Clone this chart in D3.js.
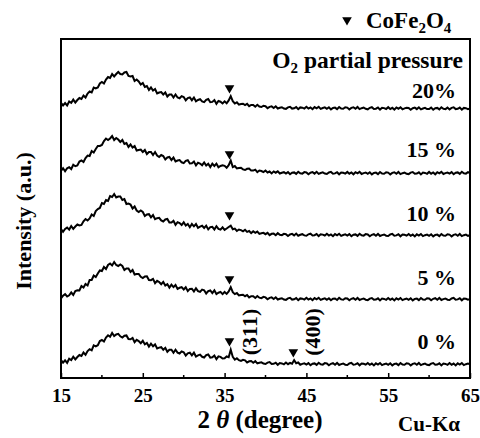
<!DOCTYPE html>
<html>
<head>
<meta charset="utf-8">
<script src="https://cdn.jsdelivr.net/npm/d3@7"></script>
<style>
  body { margin: 0; background: #fff; }
</style>
</head>
<body>
<svg id="chart" width="480" height="438"></svg>
<script>
const serif = "'Liberation Serif', 'Times New Roman', Times, serif";

// 2-theta sampling grid (degrees), 0.25 deg step
const twoTheta = d3.range(15, 65.125, 0.25);

// intensities above each pattern's own baseline (a.u.)
const p0 = [
  5, 2.3, 4.7, 2.2, 6.3, 5, 8.3, 5.6, 8, 10,
  9, 12.5, 10.2, 13.9, 15.8, 14.7, 19.7, 18.7, 19.8, 23.9,
  25, 23.5, 27.5, 29.7, 28.2, 32, 29, 30.5, 31.2, 28.7,
  27.5, 29.3, 29.6, 25.9, 25.7, 27, 22.8, 25.1, 23.9, 21.8,
  24.2, 20.6, 22, 18.4, 21.3, 18.7, 20.6, 16.5, 17.4, 17.8,
  15.2, 17.2, 13.2, 15.2, 15.2, 12.2, 15.3, 12.4, 11.5, 13.6,
  12.8, 9.5, 11.7, 12.4, 9.6, 12.3, 8.5, 9.7, 10.4, 8.2,
  7.5, 9.8, 10.6, 7.4, 7.7, 9.5, 5.8, 8.7, 8.1, 6.5,
  6.8, 8.5, 7.8, 15.3, 8.1, 5.3, 6.8, 4.8, 4.1, 5.2,
  4.6, 2.5, 3.7, 4, 2.3, 3.9, 1.6, 2.3, 2.7, 1.4,
  1, 2.4, 2.9, 1, 1.2, 2.3, 0.2, 1.9, 1.6, 0.7,
  2.5, 0.8, 2.2, 1.3, 4.9, 1.7, 2.5, 0.3, 1.1, 1.6,
  0.4, 1.9, -0.2, 1.3, 1.6, 0.1, 2.2, 0.7, 0.4, 1.9,
  1.5, -0.3, 1.2, 1.8, 0.3, 2.1, 0, 0.9, 1.5, 0.3,
  0, 1.5, 2.1, 0.3, 0.6, 1.8, -0.3, 1.5, 1.2, 0.3,
  2, 0.2, 1.4, -0.4, 1.7, 0.5, 2, -0.1, 0.8, 1.4,
  0.2, 1.7, -0.4, 1.1, 1.4, -0.1, 2, 0.5, 0.2, 1.7,
  1.4, -0.4, 1.1, 1.7, 0.2, 2, -0.1, 0.8, 1.4, 0.2,
  -0.1, 1.4, 2, 0.2, 0.5, 1.7, -0.4, 1.4, 1.1, 0.2,
  2, 0.2, 1.4, -0.4, 1.7, 0.5, 2, -0.1, 0.8, 1.4,
  0.8
];
const p5 = [
  1.5, 4.4, 5.9, 3.5, 4.7, 7.5, 5, 9, 9.7, 9.5,
  14, 12.5, 16, 14.5, 20, 20, 24.5, 23, 26.5, 29.5,
  29, 33, 31, 35, 36.5, 34.5, 38, 35, 34, 35.5,
  34, 30, 31.5, 31.5, 28, 30, 25.5, 26, 26, 23.2,
  21.9, 23.6, 23.8, 20, 19.8, 21.1, 16.9, 19.2, 18, 15.8,
  18.1, 14.5, 15.9, 12.4, 15.4, 12.9, 15, 11.1, 12.2, 12.8,
  10.5, 12.7, 8.9, 11.1, 11.3, 8.5, 11.7, 8.9, 8.1, 10.4,
  9.7, 6.5, 8.8, 9.6, 6.9, 9.7, 6, 7.3, 8.1, 5.9,
  8, 6.1, 8.6, 12.8, 7.9, 5.9, 7, 4.5, 5, 5.3,
  3.8, 5, 2.6, 3.8, 3.8, 2.1, 4, 2.3, 1.8, 3.1,
  2.6, 0.7, 2.1, 2.6, 1, 2.7, 0.5, 1.3, 1.8, 0.5,
  0.1, 1.6, 2.2, 0.4, 0.7, 1.9, -0.2, 1.6, 1.3, 0.4,
  2.2, 0.4, 1.6, -0.2, 1.9, 0.7, 2.2, 0.1, 1, 1.6,
  0.3, 1.8, -0.3, 1.2, 1.5, 0, 2.1, 0.6, 0.3, 1.8,
  1.5, -0.3, 1.2, 1.8, 0.3, 2.1, 0, 0.9, 1.5, 0.3,
  -0.1, 1.4, 2, 0.2, 0.5, 1.7, -0.4, 1.4, 1.1, 0.2,
  2, 0.2, 1.4, -0.4, 1.7, 0.5, 2, -0.1, 0.8, 1.4,
  0.2, 1.7, -0.4, 1.1, 1.4, -0.1, 2, 0.5, 0.2, 1.7,
  1.5, -0.3, 1.2, 1.8, 0.3, 2.1, 0, 0.9, 1.5, 0.3,
  0, 1.5, 2.1, 0.3, 0.6, 1.8, -0.3, 1.5, 1.2, 0.3,
  0.9
];
const p10 = [
  7, 4.2, 7, 8.4, 6.4, 10, 7.2, 9.5, 11.5, 10.5,
  11, 14.7, 17, 15.5, 17.5, 21.5, 20, 25, 27, 28,
  33, 32, 36, 35, 40, 39, 42, 38.5, 39.5, 39.5,
  36, 37, 32, 32.5, 31.5, 27.5, 29.5, 25.5, 24, 25.5,
  24, 20, 21.5, 21.8, 18.6, 21, 16.9, 17.8, 18.2, 15.6,
  14.5, 16.5, 17, 13.5, 13.5, 15.1, 11.2, 13.8, 12.9, 11,
  13.7, 10.4, 12.1, 8.8, 12, 9.7, 12, 8.2, 9.4, 10.2,
  8, 10.3, 6.6, 8.9, 9.2, 6.5, 9.8, 7.1, 6.4, 8.7,
  6.1, 7.5, 9, 10.4, 6.7, 7.4, 5, 6.5, 5.9, 4.7,
  6.2, 4.1, 5, 2.9, 4.7, 3.2, 4.4, 2.1, 2.8, 3.2,
  1.8, 3.1, 0.8, 2.2, 2.4, 0.8, 2.8, 1.2, 0.8, 2.2,
  1.8, 0, 1.5, 2.1, 0.6, 2.4, 0.3, 1.2, 1.8, 0.6,
  0.2, 1.7, 2.3, 0.5, 0.8, 2, -0.1, 1.7, 1.4, 0.5,
  2.2, 0.4, 1.6, -0.2, 1.9, 0.7, 2.2, 0.1, 1, 1.6,
  0.4, 1.9, -0.2, 1.3, 1.6, 0.1, 2.2, 0.7, 0.4, 1.9,
  1.5, -0.3, 1.2, 1.8, 0.3, 2.1, 0, 0.9, 1.5, 0.3,
  0, 1.5, 2.1, 0.3, 0.6, 1.8, -0.3, 1.5, 1.2, 0.3,
  2, 0.2, 1.4, -0.4, 1.7, 0.5, 2, -0.1, 0.8, 1.4,
  0.2, 1.7, -0.4, 1.1, 1.4, -0.1, 2, 0.5, 0.2, 1.7,
  1.4, -0.4, 1.1, 1.7, 0.2, 2, -0.1, 0.8, 1.4, 0.2,
  0.8
];
const p15 = [
  3, 5.8, 2.7, 5.7, 6.8, 5, 9.3, 7.8, 8.5, 12.5,
  13.5, 12, 16, 18.5, 18, 23, 21.5, 25, 28, 28,
  29, 33, 35.5, 34, 35.5, 38, 34, 36, 34.5, 32,
  34, 30, 31, 27, 29.5, 26.5, 28, 23.5, 24, 24.5,
  22, 24, 20, 22, 22, 19, 22, 18.5, 17, 19,
  18, 14.5, 16.5, 17, 14, 16.5, 12.5, 13.5, 14, 11.7,
  10.9, 13.1, 13.8, 10.5, 10.7, 12.4, 8.6, 11.3, 10.5, 8.8,
  11.6, 8.4, 10.2, 7, 10.3, 8.1, 10.4, 6.7, 8, 8.8,
  8.2, 6.2, 8.8, 13.4, 6.9, 8, 5.5, 6, 6.2, 4.6,
  4, 5.2, 5.5, 3.4, 3.4, 4.3, 1.9, 3.5, 3, 1.9,
  3.5, 1.5, 2.5, 0.6, 2.6, 1.3, 2.7, 0.5, 1.3, 1.8,
  0.4, 1.9, -0.2, 1.3, 1.6, 0.1, 2.2, 0.7, 0.4, 1.9,
  1.6, -0.2, 1.3, 1.9, 0.4, 2.2, 0.1, 1, 1.6, 0.4,
  0, 1.5, 2.1, 0.3, 0.6, 1.8, -0.3, 1.5, 1.2, 0.3,
  2.1, 0.3, 1.5, -0.3, 1.8, 0.6, 2.1, 0, 0.9, 1.5,
  0.2, 1.7, -0.4, 1.1, 1.4, -0.1, 2, 0.5, 0.2, 1.7,
  1.4, -0.4, 1.1, 1.7, 0.2, 2, -0.1, 0.8, 1.4, 0.2,
  -0.1, 1.4, 2, 0.2, 0.5, 1.7, -0.4, 1.4, 1.1, 0.2,
  2.1, 0.3, 1.5, -0.3, 1.8, 0.6, 2.1, 0, 0.9, 1.5,
  0.4, 1.9, -0.2, 1.3, 1.6, 0.1, 2.2, 0.7, 0.4, 1.9,
  1
];
const p20 = [
  6, 3.5, 6, 3.5, 7.5, 6.2, 9.4, 6.5, 9, 11,
  10, 13.5, 11.5, 15.5, 17.5, 16.5, 21.5, 20.5, 21.5, 25.5,
  27, 25.5, 29.5, 32, 31, 35, 32.5, 35, 37, 35,
  34.5, 36.5, 37, 33, 32.5, 33, 28, 29.5, 27.5, 24.5,
  26, 22, 23, 19, 21.5, 18.5, 20, 15.5, 16.5, 17,
  14.5, 16.5, 12.5, 14.5, 14.5, 11.5, 14.5, 11.5, 10.7, 12.9,
  12, 8.7, 10.9, 11.6, 8.8, 11.5, 7.7, 9, 9.8, 7.5,
  6.8, 9.1, 10, 6.8, 7.1, 8.9, 5.2, 8, 7.3, 5.6,
  7.7, 5.7, 8.6, 12.8, 7.9, 5.5, 6.7, 4.3, 5, 5.3,
  3.9, 5.1, 2.8, 4, 4.1, 2.3, 4.2, 2.5, 2, 3.3,
  2.8, 0.8, 2.1, 2.6, 1, 2.7, 0.5, 1.3, 1.8, 0.5,
  0.1, 1.6, 2.2, 0.4, 0.7, 1.9, -0.2, 1.6, 1.3, 0.4,
  2.2, 0.4, 1.6, -0.2, 1.9, 0.7, 2.2, 0.1, 1, 1.6,
  0.2, 1.7, -0.4, 1.1, 1.4, -0.1, 2, 0.5, 0.2, 1.7,
  1.4, -0.4, 1.1, 1.7, 0.2, 2, -0.1, 0.8, 1.4, 0.2,
  -0.3, 1.2, 1.8, 0, 0.3, 1.5, -0.6, 1.2, 0.9, 0,
  1.8, 0, 1.2, -0.6, 1.5, 0.3, 1.8, -0.3, 0.6, 1.2,
  1.1, -0.7, 0.8, 1.4, -0.1, 1.7, -0.4, 0.5, 1.1, -0.1,
  -0.1, 1.4, -0.7, 0.8, 1.1, -0.4, 1.7, 0.2, -0.1, 1.4,
  -0.4, 1.1, 1.7, -0.1, 0.2, 1.4, -0.7, 1.1, 0.8, -0.1,
  0.5
];

const series = [p0, p5, p10, p15, p20];
const seriesOffset = [13, 78, 142, 204, 269];
const seriesLabel = ["0 %", "5 %", "10 %", "15 %", "20%"];
const labelY = [29, 93, 157, 221, 280];

// CoFe2O4 reflections marked with triangles
const markTheta = [35.6, 35.6, 35.6, 35.6, 35.6, 43.4];
const markY = [37, 99, 163, 224, 290, 26];
const hklText = ["(311)", "(400)"];
const hklTheta = [39.0, 46.7];

const xTicks = [15, 25, 35, 45, 55, 65];
const xMinor = [20, 30, 40, 50, 60];

const margin = { top: 39, right: 10, bottom: 60, left: 61 };
const width = 480 - margin.left - margin.right;
const height = 438 - margin.top - margin.bottom;

const svg = d3.select("#chart")
  .style("font-family", serif)
  .style("font-weight", "bold");
const g = svg.append("g").attr("transform", `translate(${margin.left},${margin.top})`);

const x = d3.scaleLinear().domain([15, 65]).range([0, width]);
const y = d3.scaleLinear().domain([0, height]).range([height, 0]);

const line = d3.line()
  .x((d, i) => x(twoTheta[i]))
  .y(d => y(d));

series.forEach((s, k) => {
  g.append("path")
    .attr("d", line(s.map(v => v + seriesOffset[k])))
    .attr("fill", "none")
    .attr("stroke", "#000")
    .attr("stroke-width", 2)
    .attr("stroke-linejoin", "miter");
});

const tri = d3.symbol().type(d3.symbolTriangle).size(40);
g.selectAll("path.mark")
  .data(markTheta)
  .enter()
  .append("path")
  .attr("class", "mark")
  .attr("d", tri)
  .attr("transform", (d, i) => `translate(${x(d)},${y(markY[i])}) rotate(180)`)
  .attr("fill", "#000");

hklText.forEach((t, i) => {
  g.append("text")
    .attr("transform", `translate(${x(hklTheta[i])},${y(46)}) rotate(-90)`)
    .attr("text-anchor", "middle")
    .style("font-family", serif)
    .style("font-size", "22px")
    .text(t);
});

// pattern labels
seriesLabel.forEach((t, i) => {
  g.append("text")
    .attr("x", width - 14)
    .attr("y", y(labelY[i]))
    .attr("text-anchor", "end")
    .style("font-family", serif)
    .style("font-size", "22px")
    .text(t);
});

const o2 = g.append("text")
  .attr("x", width - 7)
  .attr("y", 29)
  .attr("text-anchor", "end")
  .style("font-family", serif)
  .style("font-size", "23.5px");
o2.append("tspan").text("O");
o2.append("tspan").attr("dy", 5).style("font-size", "15px").text("2");
o2.append("tspan").attr("dy", -5).text(" partial pressure");

// frame
g.append("rect")
  .attr("width", width)
  .attr("height", height)
  .attr("fill", "none")
  .attr("stroke", "#000")
  .attr("stroke-width", 2);

// bottom axis, ticks pointing inward
const xAxis = g.append("g")
  .attr("transform", `translate(0,${height})`)
  .call(d3.axisBottom(x).tickValues(xTicks).tickSize(-5).tickPadding(11).tickFormat(d3.format("d")));
xAxis.attr("font-family", null).attr("font-size", null);
xAxis.select(".domain").remove();
xAxis.selectAll("line").attr("stroke-width", 1.5);
xAxis.selectAll("text")
  .style("font-family", serif)
  .style("font-weight", "bold")
  .style("font-size", "19px");

g.append("g")
  .attr("transform", `translate(0,${height})`)
  .selectAll("line")
  .data(xMinor)
  .enter()
  .append("line")
  .attr("x1", d => x(d))
  .attr("x2", d => x(d))
  .attr("y1", 0)
  .attr("y2", -3)
  .attr("stroke", "#000")
  .attr("stroke-width", 1.5);

// axis titles
const xt = svg.append("text")
  .attr("x", 260)
  .attr("y", 428)
  .attr("text-anchor", "middle")
  .style("font-family", serif)
  .style("font-size", "25px");
xt.append("tspan").text("2 ");
xt.append("tspan").style("font-style", "italic").text("θ");
xt.append("tspan").text(" (degree)");

svg.append("text")
  .attr("x", 429)
  .attr("y", 431)
  .attr("text-anchor", "middle")
  .style("font-family", serif)
  .style("font-size", "21px")
  .text("Cu-Kα");

svg.append("text")
  .attr("transform", "translate(31,221) rotate(-90)")
  .attr("text-anchor", "middle")
  .style("font-family", serif)
  .style("font-size", "22px")
  .text("Intensity (a.u.)");

// legend
svg.append("path")
  .attr("d", tri)
  .attr("transform", "translate(347,20) rotate(180)")
  .attr("fill", "#000");
const leg = svg.append("text")
  .attr("x", 366)
  .attr("y", 28)
  .style("font-family", serif)
  .style("font-size", "23px");
leg.append("tspan").text("CoFe");
leg.append("tspan").attr("dy", 5).style("font-size", "15px").text("2");
leg.append("tspan").attr("dy", -5).text("O");
leg.append("tspan").attr("dy", 5).style("font-size", "15px").text("4");
</script>
</body>
</html>
